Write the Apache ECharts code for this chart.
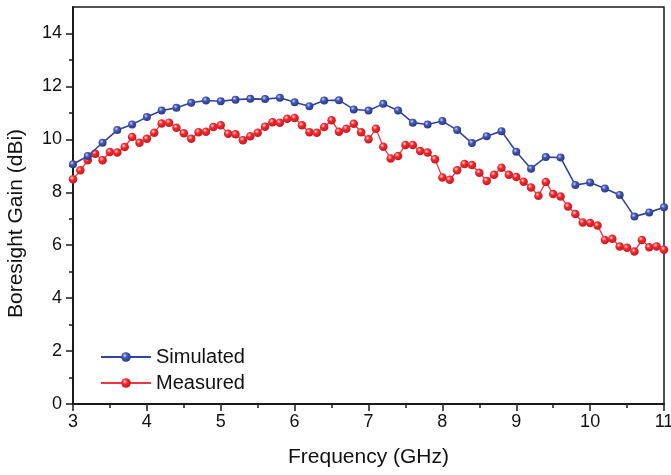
<!DOCTYPE html>
<html>
<head>
<meta charset="utf-8">
<script src="https://cdn.jsdelivr.net/npm/echarts@6/dist/echarts.min.js"></script>
<style>html,body{margin:0;padding:0;background:#fff;}#c{width:671px;height:475px;}</style>
</head>
<body>
<div id="c"></div>
<script>
const freqSim = [3.0,3.2,3.4,3.6,3.8,4.0,4.2,4.4,4.6,4.8,5.0,5.2,5.4,5.6,5.8,6.0,6.2,6.4,6.6,6.8,7.0,7.2,7.4,7.6,7.8,8.0,8.2,8.4,8.6,8.8,9.0,9.2,9.4,9.6,9.8,10.0,10.2,10.4,10.6,10.8,11.0];
const simulated = [9.06,9.37,9.87,10.35,10.56,10.84,11.09,11.19,11.38,11.47,11.44,11.50,11.53,11.52,11.57,11.40,11.25,11.47,11.48,11.13,11.09,11.34,11.09,10.63,10.56,10.69,10.35,9.86,10.12,10.31,9.53,8.89,9.33,9.31,8.27,8.37,8.14,7.90,7.08,7.24,7.43];
const freqMeas = [3.0,3.1,3.2,3.3,3.4,3.5,3.6,3.7,3.8,3.9,4.0,4.1,4.2,4.3,4.4,4.5,4.6,4.7,4.8,4.9,5.0,5.1,5.2,5.3,5.4,5.5,5.6,5.7,5.8,5.9,6.0,6.1,6.2,6.3,6.4,6.5,6.6,6.7,6.8,6.9,7.0,7.1,7.2,7.3,7.4,7.5,7.6,7.7,7.8,7.9,8.0,8.1,8.2,8.3,8.4,8.5,8.6,8.7,8.8,8.9,9.0,9.1,9.2,9.3,9.4,9.5,9.6,9.7,9.8,9.9,10.0,10.1,10.2,10.3,10.4,10.5,10.6,10.7,10.8,10.9,11.0];
const measured = [8.49,8.83,9.21,9.46,9.21,9.52,9.50,9.71,10.09,9.87,10.02,10.25,10.60,10.63,10.44,10.23,10.02,10.27,10.29,10.47,10.53,10.21,10.19,9.97,10.12,10.25,10.48,10.65,10.63,10.78,10.81,10.53,10.27,10.25,10.47,10.72,10.29,10.40,10.59,10.27,10.00,10.40,9.72,9.28,9.37,9.79,9.79,9.56,9.50,9.25,8.56,8.47,8.83,9.07,9.03,8.74,8.43,8.66,8.93,8.66,8.58,8.40,8.18,7.87,8.39,7.93,7.84,7.46,7.18,6.86,6.84,6.74,6.20,6.24,5.95,5.90,5.76,6.20,5.92,5.95,5.83];
const yMajorTicks = [0,2,4,6,8,10,12,14];
const yMinorTicks = [1,3,5,7,9,11,13];

const chart = echarts.init(document.getElementById('c'));
const font = 'Liberation Sans, Arial, sans-serif';
function ball(c0, c1, c2){
  return {type:'radial', x:0.38, y:0.35, r:0.75, colorStops:[
    {offset:0, color:c0},{offset:0.35, color:c1},{offset:1, color:c2}]};
}
const axisCol = '#1a1a1a';
chart.setOption({
  animation:false,
  backgroundColor:'#fff',
  grid:{left:73, right:7, top:7, bottom:71, containLabel:false, outerBoundsMode:'none',
        show:true, borderColor:axisCol, borderWidth:1.5, backgroundColor:'transparent'},
  legend:{
    left:95, top:342, orient:'vertical', itemWidth:50, itemHeight:12, itemGap:6,
    textStyle:{fontFamily:font, fontSize:20, color:'#111'},
    data:['Simulated','Measured']
  },
  xAxis:{
    type:'value', min:3, max:11, interval:1,
    name:'Frequency (GHz)', nameLocation:'middle', nameGap:43,
    nameTextStyle:{fontFamily:font, fontSize:21, color:'#111'},
    axisLine:{show:true, onZero:false, lineStyle:{color:axisCol, width:2}},
    axisTick:{show:true, inside:false, length:7, lineStyle:{color:axisCol, width:1.5}},
    minorTick:{show:true, splitNumber:2, length:4, lineStyle:{color:axisCol, width:1.5}},
    axisLabel:{fontFamily:font, fontSize:18, color:'#111', margin:9},
    splitLine:{show:false}
  },
  yAxis:[{
    type:'value', min:0, max:15, interval:1,
    name:'Boresight Gain (dBi)', nameLocation:'middle', nameGap:46,
    nameTextStyle:{fontFamily:font, fontSize:21, color:'#111', padding:[0,36,0,0]},
    axisLine:{show:true, onZero:false, lineStyle:{color:axisCol, width:2}},
    axisTick:{show:true, inside:false, length:4, customValues:yMinorTicks, lineStyle:{color:axisCol, width:1.5}},
    axisLabel:{fontFamily:font, fontSize:18, color:'#111', margin:11, customValues:yMajorTicks},
    splitLine:{show:false}
  },{
    type:'value', min:0, max:15, interval:1, position:'left',
    axisLine:{show:false},
    axisTick:{show:true, inside:false, length:7, customValues:yMajorTicks, lineStyle:{color:axisCol, width:1.5}},
    axisLabel:{show:false},
    splitLine:{show:false}
  }],
  series:[{
    name:'Simulated', type:'line', yAxisIndex:0,
    data:freqSim.map((f,i)=>[f, simulated[i]]),
    symbol:'circle', symbolSize:8,
    lineStyle:{color:'#2f45a0', width:1.6},
    itemStyle:{color:ball('#c9d2f5','#4356b0','#26337f')},
    z:3
  },{
    name:'Measured', type:'line', yAxisIndex:0,
    data:freqMeas.map((f,i)=>[f, measured[i]]),
    symbol:'circle', symbolSize:8.5,
    lineStyle:{color:'#f2363d', width:1.3},
    itemStyle:{color:ball('#ffd2d2','#f02a30','#c0141b')},
    z:2
  }]
});
</script>
</body>
</html>
